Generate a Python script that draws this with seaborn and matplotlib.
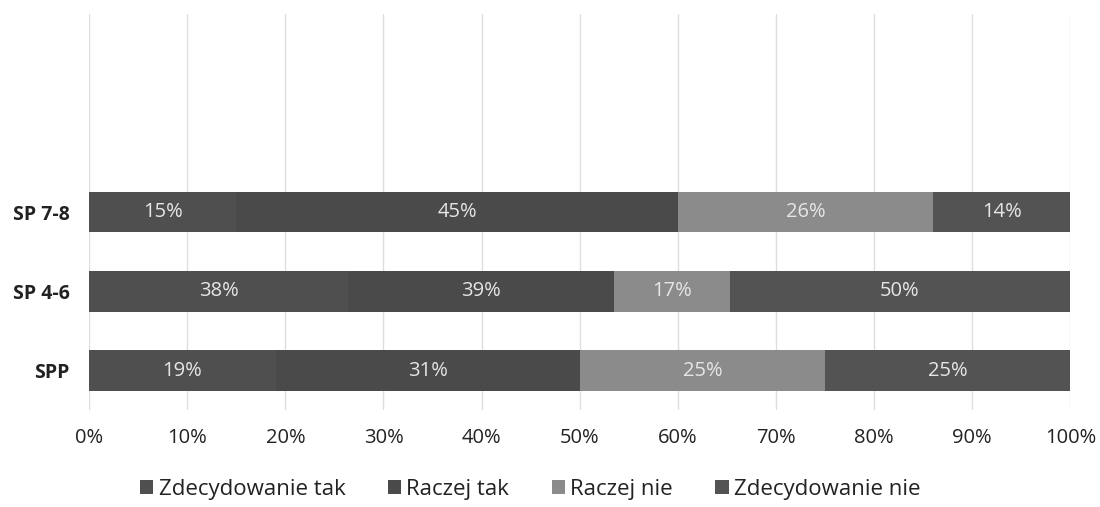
import numpy as np
import pandas as pd
import matplotlib
matplotlib.use("Agg")
import matplotlib.pyplot as plt
from matplotlib.patches import Patch
import seaborn as sns

# data (labels show raw values, bars are normalised to 100%)
GROUPS = ["SP 7-8", "SP 4-6", "SPP"]
SERIES = ["Zdecydowanie tak", "Raczej tak", "Raczej nie", "Zdecydowanie nie"]
zdecydowanie_tak = [15, 38, 19]
raczej_tak = [45, 39, 31]
raczej_nie = [26, 17, 25]
zdecydowanie_nie = [14, 50, 25]
XTICKS = [0, 10, 20, 30, 40, 50, 60, 70, 80, 90, 100]

COLORS = ["#4f4f4f", "#4a4a4a", "#8b8b8b", "#535353"]

sns.set_theme(style="white")
plt.rcParams["font.family"] = ["Open Sans", "DejaVu Sans"]

raw = np.array([zdecydowanie_tak, raczej_tak, raczej_nie, zdecydowanie_nie], dtype=float)
share = raw / raw.sum(axis=0) * 100
cum = share.cumsum(axis=0)

df = pd.DataFrame({"group": GROUPS})
for i, s in enumerate(SERIES):
    df[s] = cum[i]

fig, ax = plt.subplots(figsize=(11, 5.07), dpi=100)
fig.subplots_adjust(left=0.081, right=0.973, bottom=0.191, top=0.972)

# stacked look: draw cumulative bars from the longest to the shortest
for i in reversed(range(len(SERIES))):
    sns.barplot(data=df, x=SERIES[i], y="group", order=GROUPS, color=COLORS[i],
                width=0.51, saturation=1, linewidth=0, edgecolor="none",
                ax=ax, zorder=2)

# value labels in the middle of each segment
for i in range(len(SERIES)):
    start = cum[i] - share[i]
    for j in range(len(GROUPS)):
        ax.text(start[j] + share[i][j] / 2, j, f"{int(raw[i][j])}%",
                ha="center", va="center", color="#e6e6e6", fontsize=14.5, zorder=3)

ax.set_xlim(0, 100)
ax.set_ylim(2.5, -2.5)
ax.set_xticks(XTICKS)
ax.set_xticklabels([f"{t}%" for t in XTICKS])
ax.set_xlabel("")
ax.set_ylabel("")
ax.grid(axis="x", color="#dedede", linewidth=1, zorder=0)
ax.grid(axis="y", visible=False)
for sp in ax.spines.values():
    sp.set_visible(False)
ax.tick_params(axis="x", labelsize=14.5, colors="#222222", pad=13, length=0)
ax.tick_params(axis="y", labelsize=14, pad=14, length=0)
for lbl in ax.get_yticklabels():
    lbl.set_fontweight("bold")
    lbl.set_color("#222222")

handles = [Patch(facecolor=c, edgecolor="none") for c in COLORS]
fig.legend(handles, SERIES, loc="center", bbox_to_anchor=(0.482, 0.035), ncol=4,
           frameon=False, fontsize=16, handlelength=0.6, handleheight=0.6,
           handletextpad=0.25, columnspacing=1.9, labelcolor="#222222")

plt.savefig("out.png", dpi=100)
